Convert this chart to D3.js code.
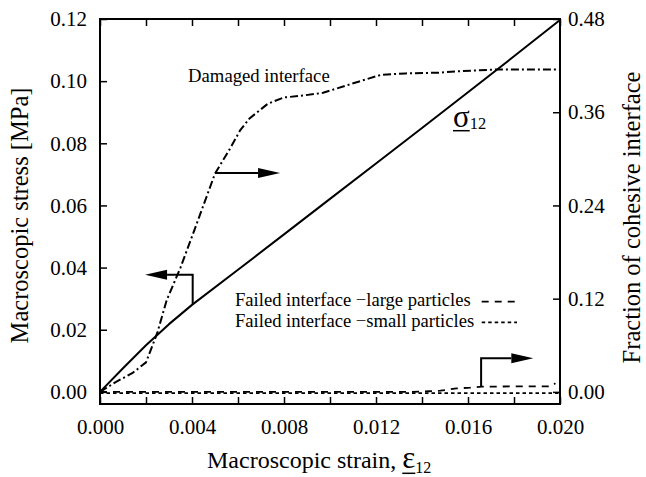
<!DOCTYPE html>
<html>
<head>
<meta charset="utf-8">
<script src="https://cdn.jsdelivr.net/npm/d3@7"></script>
<style>
  html, body { margin: 0; padding: 0; background: #fff; }
  svg { display: block; }
</style>
</head>
<body>
<svg id="chart" width="646" height="477"></svg>
<script>
// Macroscopic shear stress (left axis) and interface state (right axis) vs macroscopic strain

// sigma_12 curve
const stressStrain = [0, 0.001, 0.002, 0.003, 0.004, 0.006, 0.008, 0.010, 0.012, 0.014, 0.016, 0.018, 0.020];
const stressValues = [0, 0.0076, 0.0150, 0.0218, 0.0280, 0.0393, 0.0507, 0.0621, 0.0735, 0.0849, 0.0964, 0.1080, 0.1197];

// damaged interface fraction
const damagedStrain   = [0, 0.0007, 0.0014, 0.0020, 0.0024, 0.0025, 0.0029, 0.0035, 0.0041, 0.0050, 0.00565, 0.0061, 0.0065, 0.0073, 0.0080, 0.0087, 0.0097, 0.0112, 0.0122, 0.0133, 0.0148, 0.0157, 0.0173, 0.0200];
const damagedFraction = [0, 0.013, 0.024, 0.038, 0.069, 0.077, 0.118, 0.160, 0.208, 0.281, 0.313, 0.337, 0.352, 0.371, 0.379, 0.381, 0.385, 0.399, 0.408, 0.410, 0.411, 0.413, 0.415, 0.415];

// failed interface fraction, large particles
const largeStrain   = [0, 0.0135, 0.0143, 0.0148, 0.0155, 0.0161, 0.0166, 0.0180, 0.0196, 0.0198];
const largeFraction = [0, 0, 0.0008, 0.0015, 0.0045, 0.0054, 0.0068, 0.0070, 0.0070, 0.0110];

// failed interface fraction, small particles
const smallStrain   = [0, 0.005, 0.010, 0.015, 0.020];
const smallFraction = [-0.0015, -0.0015, -0.0015, -0.0015, -0.0015];

// axis ticks
const xTicks  = [0, 0.002, 0.004, 0.006, 0.008, 0.010, 0.012, 0.014, 0.016, 0.018, 0.020];
const xLabels = [0, 0.004, 0.008, 0.012, 0.016, 0.020];
const yTicks  = [0, 0.02, 0.04, 0.06, 0.08, 0.10, 0.12];
const y2Ticks = [0, 0.12, 0.24, 0.36, 0.48];

// callout arrows, in (strain, stress) units
const damageArrow = [[0.0050, 0.0704], [0.00783, 0.0704]];
const stressArrow = [[0.00403, 0.0282], [0.00403, 0.0377], [0.00196, 0.0377]];
const failArrow   = [[0.01657, 0.0016], [0.01657, 0.01085], [0.01884, 0.01085]];

const W = 646, H = 477;
const plotLeft = 100, plotRight = 560, plotTop = 19, plotBottom = 404;
const serif = "'Liberation Serif', Tinos, 'Times New Roman', Times, 'DejaVu Serif', 'Noto Serif', serif";

const svg = d3.select("#chart").style("font-family", serif);
svg.append("rect").attr("width", W).attr("height", H).attr("fill", "#fff");

const x  = d3.scaleLinear().domain([0, 0.02]).range([plotLeft, plotRight]);
const y  = d3.scaleLinear().domain([-0.0039, 0.12]).range([plotBottom, plotTop]);
const y2 = d3.scaleLinear().domain([-0.0156, 0.48]).range([plotBottom, plotTop]);

const tickFont = 21;
function styleAxis(g) {
  g.select(".domain").remove();
  g.attr("font-family", serif).attr("font-size", tickFont);
  g.selectAll(".tick line").attr("stroke", "#000").attr("stroke-width", 1.5);
  g.selectAll(".tick text").attr("fill", "#000");
}

const fmt3 = d3.format(".3f"), fmt2 = d3.format(".2f");

svg.append("g").attr("transform", `translate(0,${plotBottom})`)
  .call(d3.axisBottom(x).tickValues(xTicks).tickSizeInner(-7).tickSizeOuter(0).tickPadding(15)
    .tickFormat(d => xLabels.some(v => Math.abs(v - d) < 1e-9) ? fmt3(d) : ""))
  .call(styleAxis);

svg.append("g").attr("transform", `translate(0,${plotTop})`)
  .call(d3.axisTop(x).tickValues(xTicks).tickSizeInner(-7).tickSizeOuter(0).tickFormat(() => ""))
  .call(styleAxis);

svg.append("g").attr("transform", `translate(${plotLeft},0)`)
  .call(d3.axisLeft(y).tickValues(yTicks).tickSizeInner(-7).tickSizeOuter(0).tickPadding(13).tickFormat(fmt2))
  .call(styleAxis);

svg.append("g").attr("transform", `translate(${plotRight},0)`)
  .call(d3.axisRight(y2).tickValues(y2Ticks).tickSizeInner(-7).tickSizeOuter(0).tickPadding(8).tickFormat(fmt2))
  .call(styleAxis);

// plot frame
svg.append("rect")
  .attr("x", plotLeft).attr("y", plotTop).attr("width", plotRight - plotLeft).attr("height", plotBottom - plotTop)
  .attr("fill", "none").attr("stroke", "#000").attr("stroke-width", 2);

// data lines
function drawSeries(xs, ys, yScale, dash, width) {
  const pts = xs.map((v, i) => [v, ys[i]]);
  svg.append("path")
    .datum(pts)
    .attr("fill", "none")
    .attr("stroke", "#000")
    .attr("stroke-width", width)
    .attr("stroke-dasharray", dash)
    .attr("stroke-linejoin", "round")
    .attr("d", d3.line().x(d => x(d[0])).y(d => yScale(d[1])));
}

drawSeries(smallStrain, smallFraction, y2, "3.5,3", 1.8);
drawSeries(largeStrain, largeFraction, y2, "7,6", 1.8);
drawSeries(damagedStrain, damagedFraction, y2, "8,3,2,3", 2);
drawSeries(stressStrain, stressValues, y, null, 2);

// callout arrows
function drawArrow(pts) {
  const p = pts.map(d => [x(d[0]), y(d[1])]);
  const n = p.length;
  const [ax, ay] = p[n - 2], [bx, by] = p[n - 1];
  const len = Math.hypot(bx - ax, by - ay);
  const ux = (bx - ax) / len, uy = (by - ay) / len;
  const headL = 22, headW = 5;
  const base = [bx - ux * headL, by - uy * headL];
  const shaft = p.slice(0, n - 1).concat([base]);
  svg.append("path")
    .attr("d", d3.line()(shaft))
    .attr("fill", "none").attr("stroke", "#000").attr("stroke-width", 2)
    .attr("stroke-linejoin", "miter");
  svg.append("path")
    .attr("d", d3.line()([
      [bx, by],
      [base[0] - uy * headW, base[1] + ux * headW],
      [base[0] + uy * headW, base[1] - ux * headW]
    ]) + "Z")
    .attr("fill", "#000");
}
drawArrow(damageArrow);
drawArrow(stressArrow);
drawArrow(failArrow);

// curve labels
svg.append("text")
  .attr("x", x(0.00383)).attr("y", y(0.0998))
  .attr("font-size", 18.7)
  .text("Damaged interface");

const sig = svg.append("text").attr("x", 453).attr("y", 126.5);
sig.append("tspan").attr("font-size", 31).text("σ");
sig.append("tspan").attr("font-size", 16.5).attr("dy", 2).text("12");
{
  const e = sig.node().getExtentOfChar(0);
  svg.append("line")
    .attr("x1", e.x).attr("x2", e.x + e.width)
    .attr("y1", 130.7).attr("y2", 130.7)
    .attr("stroke", "#000").attr("stroke-width", 1.5);
}

// legend
const legendRows = [
  { label: "Failed interface \u2212large particles", dash: "7,6" },
  { label: "Failed interface \u2212small particles", dash: "3.5,3" }
];
legendRows.forEach((r, i) => {
  const base = 306 + i * 20.7;
  svg.append("text").attr("x", 235).attr("y", base).attr("font-size", 18.6).text(r.label);
  svg.append("line")
    .attr("x1", 481.7).attr("x2", 517).attr("y1", base - 4.3).attr("y2", base - 4.3)
    .attr("stroke", "#000").attr("stroke-width", 1.8).attr("stroke-dasharray", r.dash);
});

// axis titles
const bt = svg.append("text").attr("x", 207).attr("y", 468);
bt.append("tspan").attr("font-size", 24).text("Macroscopic strain, ");
bt.append("tspan").attr("font-size", 31).text("ε");
bt.append("tspan").attr("font-size", 16).attr("dy", 5).text("12");
{
  const e = bt.node().getExtentOfChar(20);
  svg.append("line")
    .attr("x1", e.x).attr("x2", e.x + e.width)
    .attr("y1", 473.3).attr("y2", 473.3)
    .attr("stroke", "#000").attr("stroke-width", 1.5);
}

svg.append("text")
  .attr("transform", `translate(28,${(plotTop + plotBottom) / 2 + 4}) rotate(-90)`)
  .attr("text-anchor", "middle")
  .attr("font-size", 24.5)
  .text("Macroscopic stress [MPa]");

svg.append("text")
  .attr("transform", `translate(640,${(plotTop + plotBottom) / 2 + 6}) rotate(-90)`)
  .attr("text-anchor", "middle")
  .attr("font-size", 24.5)
  .text("Fraction of cohesive interface");
</script>
</body>
</html>
